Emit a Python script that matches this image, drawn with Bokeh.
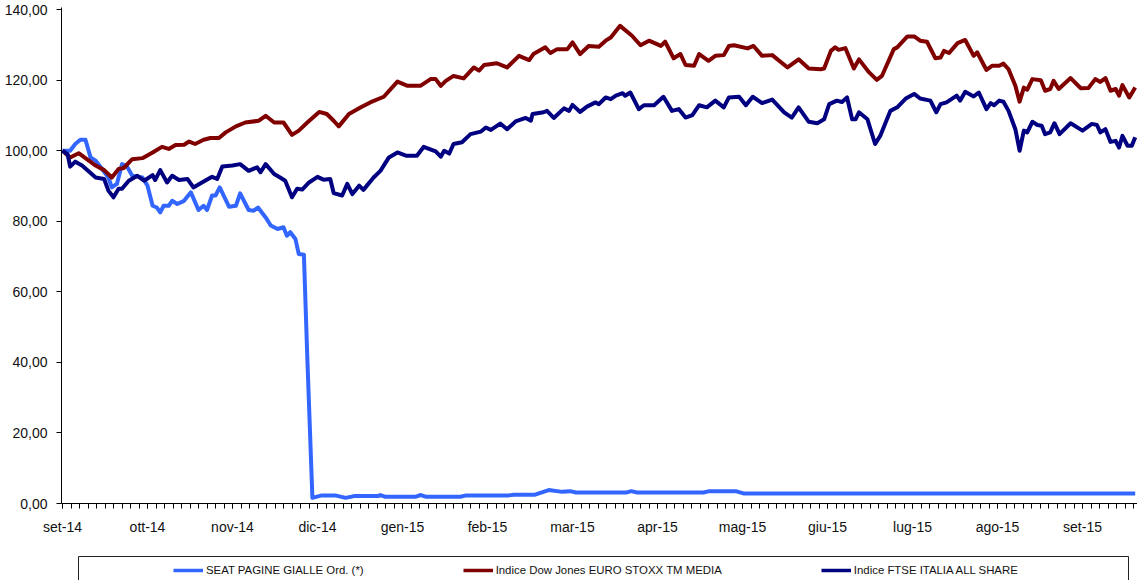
from bokeh.plotting import figure
from bokeh.models import (Range1d, FixedTicker, CustomJSTickFormatter, Legend, LegendItem,
                          BoxAnnotation)
from bokeh.layouts import column
from bokeh.embed import file_html
from bokeh.resources import INLINE

# x = months since set-14 (category-style month positions)
month_labels = ["set-14", "ott-14", "nov-14", "dic-14", "gen-15", "feb-15", "mar-15",
                "apr-15", "mag-15", "giu-15", "lug-15", "ago-15", "set-15"]
y_ticks = [0, 20, 40, 60, 80, 100, 120, 140]

seat_pts = [(0.00, 100.0), (0.09, 100.0), (0.15, 101.9), (0.21, 103.1), (0.27, 103.1), (0.33, 98.1),
            (0.39, 97.2), (0.45, 95.3), (0.54, 92.4), (0.58, 89.6), (0.64, 90.6), (0.70, 96.2),
            (0.76, 95.5), (0.82, 92.9), (0.94, 92.4), (1.00, 90.1), (1.06, 84.4), (1.11, 83.9),
            (1.15, 82.5), (1.19, 84.4), (1.25, 84.4), (1.29, 85.8), (1.35, 84.9), (1.43, 85.8),
            (1.51, 88.2), (1.60, 83.2), (1.66, 84.4), (1.70, 83.2), (1.76, 87.3), (1.80, 87.3),
            (1.85, 89.6), (1.96, 84.1), (2.04, 84.4), (2.09, 87.9), (2.19, 83.2), (2.25, 83.0),
            (2.30, 83.9), (2.39, 81.1), (2.45, 78.8), (2.53, 77.8), (2.60, 78.3), (2.64, 75.9),
            (2.68, 76.9), (2.74, 75.0), (2.78, 70.7), (2.84, 70.5), (2.88, 41.4), (2.94, 1.6),
            (3.05, 2.3), (3.21, 2.3), (3.33, 1.6), (3.43, 2.1), (3.71, 2.1), (3.74, 2.4),
            (3.80, 1.9), (4.15, 1.9), (4.21, 2.4), (4.28, 1.9), (4.68, 1.9), (4.75, 2.3),
            (5.25, 2.3), (5.31, 2.5), (5.56, 2.5), (5.72, 3.8), (5.88, 3.3), (5.97, 3.5),
            (6.04, 3.1), (6.63, 3.1), (6.69, 3.5), (6.76, 3.1), (7.54, 3.1), (7.61, 3.5),
            (7.92, 3.5), (8.02, 2.8), (12.62, 2.8)]

stoxx_pts = [(0.00, 100.0), (0.09, 98.1), (0.19, 99.3), (0.31, 97.2), (0.39, 95.8), (0.49, 94.5),
             (0.58, 92.4), (0.66, 94.8), (0.72, 95.1), (0.82, 97.6), (0.94, 97.9), (1.06, 99.5),
             (1.17, 101.1), (1.25, 100.5), (1.33, 101.6), (1.43, 101.7), (1.49, 102.6), (1.56, 101.9),
             (1.66, 103.1), (1.74, 103.6), (1.84, 103.6), (1.92, 105.2), (2.04, 106.9), (2.15, 108.0),
             (2.31, 108.5), (2.39, 109.9), (2.49, 108.0), (2.60, 108.0), (2.70, 104.5), (2.78, 105.7),
             (2.88, 108.0), (3.02, 111.0), (3.11, 110.4), (3.19, 108.5), (3.25, 106.9), (3.37, 110.4),
             (3.51, 112.3), (3.62, 113.7), (3.78, 115.3), (3.94, 119.6), (4.06, 118.4), (4.21, 118.4),
             (4.33, 120.3), (4.39, 120.3), (4.45, 118.4), (4.51, 119.8), (4.60, 121.2), (4.72, 120.5),
             (4.84, 123.6), (4.90, 122.7), (4.96, 124.3), (5.11, 124.8), (5.23, 123.6), (5.37, 126.9),
             (5.49, 125.7), (5.54, 127.4), (5.68, 129.3), (5.74, 127.7), (5.82, 128.8), (5.94, 128.8),
             (6.00, 130.7), (6.09, 127.4), (6.19, 129.7), (6.31, 129.5), (6.39, 131.2), (6.45, 132.1),
             (6.56, 135.4), (6.70, 132.6), (6.80, 129.9), (6.90, 131.2), (7.04, 129.7), (7.09, 130.9),
             (7.19, 126.2), (7.27, 127.4), (7.33, 124.3), (7.43, 124.1), (7.49, 127.4), (7.60, 125.5),
             (7.68, 126.9), (7.78, 127.1), (7.84, 129.7), (7.90, 129.9), (8.06, 129.0), (8.13, 129.7),
             (8.23, 126.9), (8.35, 127.1), (8.53, 123.6), (8.66, 125.9), (8.78, 123.3), (8.92, 123.1),
             (8.96, 123.3), (9.04, 128.3), (9.09, 129.3), (9.13, 128.6), (9.21, 129.1), (9.31, 123.3),
             (9.37, 125.9), (9.49, 122.2), (9.58, 120.1), (9.64, 121.2), (9.78, 128.8), (9.82, 129.3),
             (9.94, 132.4), (10.02, 132.4), (10.09, 131.2), (10.17, 130.9), (10.27, 126.2), (10.33, 126.4),
             (10.37, 128.3), (10.43, 127.7), (10.53, 130.5), (10.62, 131.4), (10.72, 126.9), (10.76, 127.9),
             (10.87, 122.9), (10.94, 124.1), (11.02, 124.1), (11.07, 124.7), (11.13, 123.1), (11.21, 118.4),
             (11.26, 113.9), (11.31, 117.9), (11.35, 117.3), (11.41, 120.3), (11.51, 120.0), (11.56, 117.0),
             (11.62, 117.5), (11.66, 119.8), (11.72, 117.5), (11.86, 120.6), (11.98, 117.7), (12.07, 117.8),
             (12.15, 120.3), (12.21, 119.5), (12.27, 120.6), (12.33, 117.0), (12.39, 117.5), (12.43, 115.6),
             (12.47, 118.6), (12.55, 115.1), (12.62, 117.9)]

ftse_pts = [(0.00, 100.0), (0.06, 99.0), (0.09, 95.5), (0.15, 96.9), (0.23, 95.8), (0.31, 94.1),
            (0.39, 92.4), (0.49, 92.0), (0.54, 88.7), (0.60, 86.8), (0.66, 89.2), (0.70, 89.2),
            (0.78, 91.5), (0.88, 92.9), (0.96, 91.5), (1.06, 93.1), (1.09, 91.7), (1.15, 94.5),
            (1.23, 91.0), (1.29, 92.9), (1.37, 91.7), (1.47, 92.0), (1.54, 89.6), (1.64, 91.0),
            (1.76, 92.6), (1.82, 92.0), (1.88, 95.5), (2.00, 95.8), (2.09, 96.2), (2.19, 94.3),
            (2.29, 95.3), (2.33, 93.9), (2.39, 96.2), (2.49, 93.4), (2.56, 92.4), (2.62, 91.5),
            (2.70, 86.8), (2.76, 89.2), (2.82, 89.0), (2.90, 91.0), (3.00, 92.6), (3.07, 91.8),
            (3.15, 92.0), (3.19, 88.0), (3.29, 87.3), (3.35, 90.6), (3.41, 87.7), (3.49, 90.1),
            (3.54, 88.9), (3.66, 92.4), (3.74, 94.3), (3.84, 98.1), (3.94, 99.5), (4.04, 98.6),
            (4.17, 98.6), (4.25, 101.1), (4.39, 99.8), (4.45, 98.3), (4.49, 100.0), (4.55, 99.2),
            (4.60, 101.9), (4.70, 102.4), (4.80, 104.7), (4.92, 105.4), (4.98, 106.6), (5.04, 105.9),
            (5.15, 107.7), (5.23, 106.1), (5.33, 108.3), (5.45, 109.3), (5.51, 108.5), (5.53, 110.4),
            (5.66, 110.9), (5.70, 111.3), (5.78, 109.3), (5.90, 112.0), (5.96, 111.3), (6.00, 113.0),
            (6.09, 111.0), (6.17, 112.5), (6.27, 113.7), (6.31, 113.2), (6.39, 115.1), (6.45, 114.6),
            (6.51, 115.6), (6.59, 116.3), (6.62, 115.6), (6.68, 116.5), (6.78, 111.8), (6.84, 112.9),
            (6.96, 112.9), (7.07, 115.3), (7.17, 111.3), (7.25, 111.8), (7.33, 109.4), (7.41, 110.1),
            (7.49, 112.9), (7.58, 112.3), (7.68, 114.2), (7.78, 112.3), (7.84, 115.1), (7.96, 115.3),
            (8.04, 112.9), (8.12, 115.3), (8.23, 113.5), (8.35, 114.5), (8.49, 110.9), (8.58, 109.4),
            (8.66, 112.3), (8.78, 108.2), (8.88, 107.8), (8.96, 108.9), (9.02, 113.2), (9.11, 114.2),
            (9.17, 113.8), (9.23, 115.1), (9.29, 108.9), (9.33, 108.9), (9.37, 110.9), (9.47, 108.9),
            (9.56, 101.9), (9.62, 104.2), (9.74, 111.3), (9.82, 112.3), (9.92, 114.8), (10.02, 116.1),
            (10.09, 114.8), (10.21, 114.2), (10.28, 110.9), (10.33, 113.2), (10.40, 113.7), (10.52, 115.6),
            (10.56, 114.2), (10.62, 116.7), (10.72, 115.4), (10.78, 116.5), (10.87, 111.8), (10.92, 113.5),
            (10.96, 112.9), (11.02, 114.2), (11.07, 113.9), (11.13, 111.3), (11.21, 106.1), (11.26, 100.0),
            (11.31, 105.7), (11.35, 105.2), (11.41, 108.2), (11.47, 107.3), (11.52, 107.1), (11.56, 104.7),
            (11.62, 105.2), (11.67, 107.8), (11.73, 104.7), (11.86, 107.8), (12.00, 105.7), (12.11, 107.6),
            (12.17, 107.3), (12.21, 105.2), (12.27, 106.1), (12.33, 102.5), (12.39, 102.8), (12.43, 100.9),
            (12.47, 104.2), (12.53, 101.4), (12.58, 101.4), (12.62, 103.8)]

series = [
    ("SEAT PAGINE GIALLE Ord. (*)", seat_pts, "#3366FF"),
    ("Indice Dow Jones EURO STOXX TM MEDIA", stoxx_pts, "#800000"),
    ("Indice FTSE ITALIA ALL SHARE", ftse_pts, "#000080"),
]

FONT = "Liberation Sans"
W = 1137
LEFT = 61

p = figure(width=W, height=554, output_backend="svg", toolbar_location=None,
           x_range=Range1d(-0.0118, 12.647), y_range=Range1d(0, 140.6),
           min_border_left=LEFT, min_border_right=0, min_border_top=7, min_border_bottom=51)
p.outline_line_color = None
p.xgrid.visible = False
p.ygrid.visible = False
p.background_fill_color = "white"
p.border_fill_color = "white"

for name, pts, color in series:
    xs = [a for a, b in pts]
    ys = [b for a, b in pts]
    p.line(xs, ys, line_color=color, line_width=4, line_join="round")

# x axis
xa = p.xaxis[0]
xa.ticker = FixedTicker(ticks=list(range(len(month_labels))),
                        minor_ticks=[i / 10 for i in range(127)])
xa.formatter = CustomJSTickFormatter(args=dict(labels=month_labels),
                                     code="const i = Math.round(tick); return (i >= 0 && i < labels.length) ? labels[i] : '';")
xa.major_tick_in = 0
xa.major_tick_out = 5
xa.minor_tick_in = 0
xa.minor_tick_out = 5
xa.axis_line_color = "black"
xa.major_tick_line_color = "black"
xa.minor_tick_line_color = "black"
xa.major_label_text_font = FONT
xa.major_label_text_font_size = "14px"
xa.major_label_text_color = "#111111"
xa.major_label_standoff = 10

ya = p.yaxis[0]
ya.ticker = FixedTicker(ticks=y_ticks)
ya.formatter = CustomJSTickFormatter(code="return tick.toFixed(2).replace('.', ',');")
ya.major_tick_in = 0
ya.major_tick_out = 5
ya.minor_tick_line_color = None
ya.axis_line_color = "black"
ya.major_tick_line_color = "black"
ya.major_label_text_font = FONT
ya.major_label_text_font_size = "14px"
ya.major_label_text_color = "#111111"
ya.major_label_standoff = 9

# legend strip: same frame as the chart (pixel-like units), box drawn as an annotation
p2 = figure(width=W, height=26, output_backend="svg", toolbar_location=None,
            x_range=Range1d(0, W - LEFT), y_range=Range1d(0, 26),
            x_axis_location=None, y_axis_location=None,
            min_border_left=LEFT, min_border_right=0, min_border_top=0, min_border_bottom=0)
p2.xgrid.visible = False
p2.ygrid.visible = False
p2.outline_line_color = None
p2.background_fill_color = "white"
p2.border_fill_color = "white"
p2.add_layout(BoxAnnotation(left=17, right=1067, top=24, bottom=-5,
                            fill_color=None, fill_alpha=0,
                            line_color="#222222", line_alpha=1.0, line_width=1))

items = []
for name, pts, color in series:
    r = p2.line([-10, -9], [-10, -9], line_color=color, line_width=3.5)
    items.append(LegendItem(label=name, renderers=[r]))

legend = Legend(items=items, orientation="horizontal", location=(112, 3),
                padding=0, margin=0, spacing=99, glyph_width=30, glyph_height=14,
                label_height=14, label_standoff=3,
                label_text_font=FONT, label_text_font_size="11.4px", label_text_color="#111111",
                border_line_color=None, background_fill_alpha=0)
p2.add_layout(legend, "center")

layout = column(p, p2, spacing=0)

open("out.html", "w").write(file_html(layout, INLINE))
